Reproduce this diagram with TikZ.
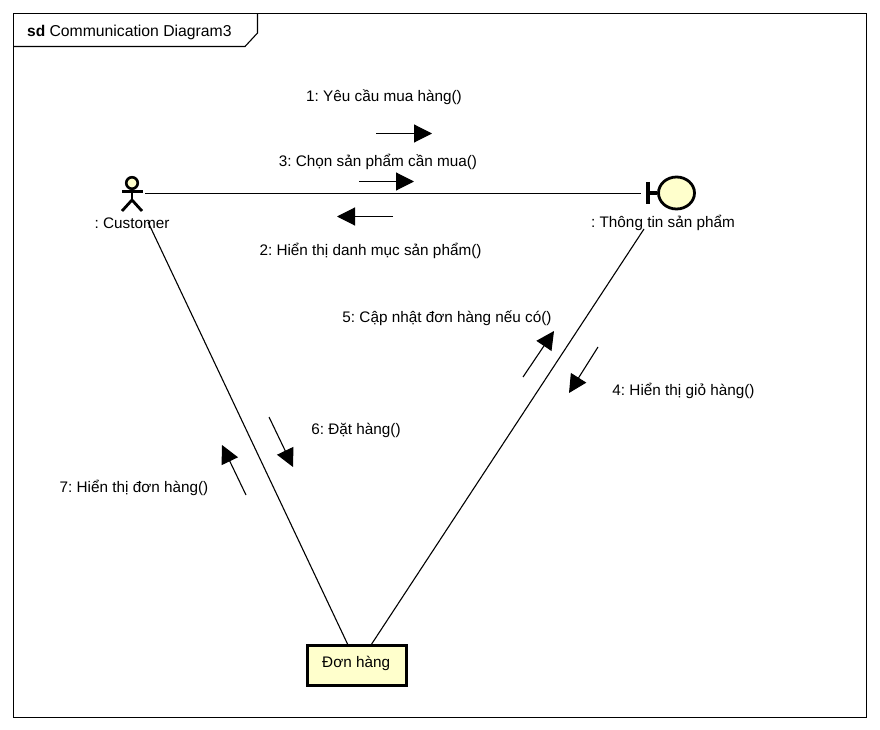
\documentclass[tikz,border=0pt]{standalone}
\usepackage{fontspec}
\setmainfont{Liberation Sans}
\usetikzlibrary{arrows.meta,shapes.geometric}
\definecolor{umlfill}{HTML}{FFFFCC}
\tikzset{
  x=1pt,y=-1pt,
  lab/.style={inner sep=0pt,anchor=center,font=\frenchspacing\fontsize{15.3}{18}\selectfont,text=black},
  link/.style={draw=black,line width=1.1pt},
  msg/.style={draw=black,line width=1.1pt,-{Triangle[length=18pt,width=18pt,fill=black]}},
  sym/.style={draw=black,line width=2.8pt,fill=umlfill},
  stick/.style={draw=black,line width=2.8pt},
  barline/.style={draw=black,line width=3.4pt},
}
\begin{document}
\begin{tikzpicture}
\useasboundingbox (0,0) rectangle (880,730);
\fill[white] (0,0) rectangle (880,730);
\draw[black,line width=1.1pt] (13.5,13.5) rectangle (866.5,717.5);
\draw[black,line width=1.1pt] (13.5,46.5) -- (245,46.5) -- (257.5,33) -- (257.5,13.5);
\node[lab,anchor=west] (title) at (27,32) {\fontsize{15.5}{18}\selectfont\textbf{sd} \fontsize{15.75}{18}\selectfont Communication Diagram3};
% actor
\coordinate (actorhead) at (132,183);
\node[sym,circle,minimum size=11.5pt,inner sep=0pt,line width=2.6pt] (head) at (actorhead) {};
\coordinate (hip) at (132,200);
\coordinate (armL) at (122,191.5);
\coordinate (armR) at (143,191.5);
\coordinate (legL) at (122,211);
\coordinate (legR) at (142,211);
\draw[stick] (head.south) -- (hip);
\draw[stick] (armL) -- (armR);
\draw[stick] (legL) -- (hip) -- (legR);
\coordinate (actorR) at (145,193.5);
\coordinate (actorB) at (148,222);
\node[lab] (customer) at (132,223.5) {: Customer};
% boundary
\node[sym,ellipse,minimum width=36pt,minimum height=32pt,inner sep=0pt] (bound) at (676.5,193) {};
\coordinate (barT) at (648,182);
\coordinate (barB) at (648,204);
\coordinate (barM) at (648,193);
\draw[barline] (barT) -- (barB);
\draw[barline] (barM) -- (bound.west);
\coordinate (boundL) at (641,193.5);
\coordinate (boundB) at (644,229);
\node[lab] (boundlabel) at (663,223) {: Thông tin sản phẩm};
% box
\node[sym,rectangle,minimum width=99pt,minimum height=40pt,inner sep=0pt,line width=3.2pt] (box) at (357,665.5) {};
\node[lab,anchor=west] (boxlabel) at (322,663) {Đơn hàng};
\coordinate (boxL) at (348,645);
\coordinate (boxR) at (371,645);
% links
\draw[link] (actorR) -- (boundL);
\draw[link] (actorB) -- (boxL);
\draw[link] (boundB) -- (boxR);
% messages
\coordinate (m1a) at (376,133.5); \coordinate (m1b) at (432,133.5);
\coordinate (m3a) at (359,181.5); \coordinate (m3b) at (414,181.5);
\coordinate (m2a) at (393,216.5); \coordinate (m2b) at (337,216.5);
\coordinate (m5a) at (523,377); \coordinate (m5b) at (554,331);
\coordinate (m4a) at (598,347); \coordinate (m4b) at (569,393);
\coordinate (m6a) at (269,417); \coordinate (m6b) at (293,467);
\coordinate (m7a) at (246,495); \coordinate (m7b) at (222,445);
\draw[msg] (m1a) -- (m1b);
\draw[msg] (m3a) -- (m3b);
\draw[msg] (m2a) -- (m2b);
\draw[msg] (m5a) -- (m5b);
\draw[msg] (m4a) -- (m4b);
\draw[msg] (m6a) -- (m6b);
\draw[msg] (m7a) -- (m7b);
% labels
\node[lab] (l1) at (384,97) {1: Yêu cầu mua hàng()};
\node[lab] (l3) at (378,162) {3: Chọn sản phẩm cần mua()};
\node[lab] (l2) at (370.5,251) {2: Hiển thị danh mục sản phẩm()};
\node[lab] (l5) at (447,318) {5: Cập nhật đơn hàng nếu có()};
\node[lab] (l4) at (683.5,391) {4: Hiển thị giỏ hàng()};
\node[lab] (l6) at (356,430) {6: Đặt hàng()};
\node[lab] (l7) at (134,488) {7: Hiển thị đơn hàng()};
\end{tikzpicture}
\end{document}
